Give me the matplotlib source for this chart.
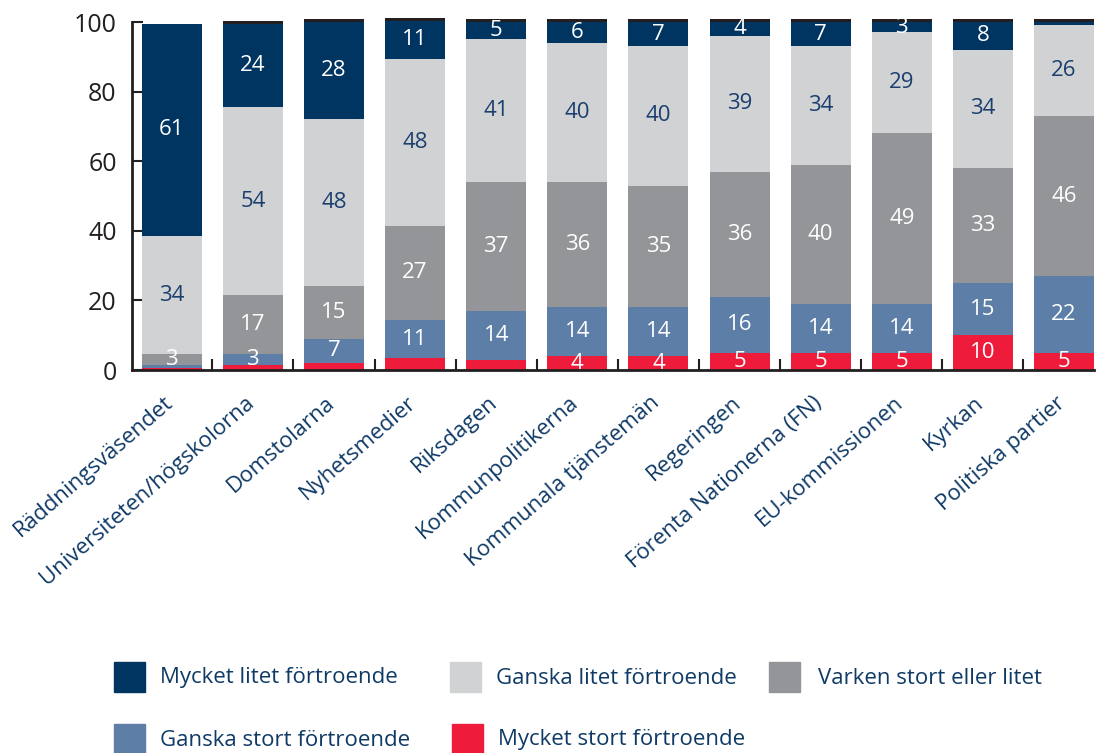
import matplotlib
matplotlib.use("Agg")
import matplotlib.pyplot as plt
from matplotlib.patches import Rectangle
import matplotlib.transforms as mtrans
import numpy as np

plt.rcParams['font.family'] = ['Open Sans', 'DejaVu Sans']

categories = ["Räddningsväsendet", "Universiteten/högskolorna", "Domstolarna",
              "Nyhetsmedier", "Riksdagen", "Kommunpolitikerna",
              "Kommunala tjänstemän", "Regeringen", "Förenta Nationerna (FN)",
              "EU-kommissionen", "Kyrkan", "Politiska partier"]

mycket_stort = [0.5, 1.5, 2, 3.4, 3, 4, 4, 5, 5, 5, 10, 5]
ganska_stort = [1, 3, 7, 11, 14, 14, 14, 16, 14, 14, 15, 22]
varken = [3, 17, 15, 27, 37, 36, 35, 36, 40, 49, 33, 46]
ganska_litet = [34, 54, 48, 48, 41, 40, 40, 39, 34, 29, 34, 26]
mycket_litet = [61, 24, 28, 11, 5, 6, 7, 4, 7, 3, 8, 1]
ovrigt = [0.0, 0.8, 0.8, 0.8, 0.8, 0.8, 0.8, 0.8, 0.8, 0.8, 0.8, 0.8]

series_names = ["Mycket stort förtroende", "Ganska stort förtroende",
                "Varken stort eller litet", "Ganska litet förtroende",
                "Mycket litet förtroende"]
series_vals = [mycket_stort, ganska_stort, varken, ganska_litet, mycket_litet]
colors = ["#EE1B3A", "#5D7FA7", "#939598", "#D1D2D4", "#003562"]
label_colors = ["white", "white", "white", "#1B3F6E", "white"]
min_label = [4, 3, 3, 3, 3]

navy_text = "#0F3A66"

fig = plt.figure(figsize=(11, 7.53), dpi=100)
ax = fig.add_axes([132/1100, 1-370/753, (1094-132)/1100, (370-22)/753])

x = np.arange(len(categories))
width = 0.74
bottom = np.zeros(len(categories))
for vals, col, lc, mn in zip(series_vals, colors, label_colors, min_label):
    v = np.array(vals, dtype=float)
    ax.bar(x, v, width, bottom=bottom, color=col, edgecolor='none', clip_on=False, zorder=2)
    for xi, vi, bi in zip(x, v, bottom):
        if vi >= mn:
            ax.text(xi, bi + vi/2, f"{int(round(vi))}", ha='center', va='center',
                    color=lc, fontsize=16, zorder=3)
    bottom = bottom + v

ov = np.array(ovrigt)
ax.bar(x, ov, width, bottom=bottom, color="#231F20", edgecolor='none', clip_on=False, zorder=2)

ax.set_xlim(-0.49, 11.37)
ax.set_ylim(0, 100)
ax.set_yticks([0, 20, 40, 60, 80, 100])
ax.tick_params(axis='y', direction='in', length=8, width=1.5, labelsize=18,
               labelcolor="#231F20", color="#231F20", pad=11)
for s in ['top', 'right']:
    ax.spines[s].set_visible(False)
for s in ['left', 'bottom']:
    ax.spines[s].set_linewidth(2)
    ax.spines[s].set_color("#231F20")

ax.set_xticks(x)
ax.set_xticklabels(categories, rotation=41, ha='right', va='top',
                   rotation_mode='anchor', fontsize=16, color=navy_text)
ax.tick_params(axis='x', which='major', length=0, pad=16)
ax.set_xticks(x[:-1] + 0.5, minor=True)
ax.tick_params(axis='x', which='minor', direction='in', length=8, width=1.5, color="#231F20")
offset = mtrans.ScaledTranslation(-6/72, 0, fig.dpi_scale_trans)
for lab in ax.get_xticklabels():
    lab.set_transform(lab.get_transform() + offset)

# legend
legend_order = [4, 3, 2, 1, 0]
pos = [(114, 662, 160, 678), (450, 662, 496, 678), (769, 662, 818, 678),
       (114, 724, 160, 740), (452, 724, 498, 740)]
for idx, (px, py, tx, ty) in zip(legend_order, pos):
    fig.add_artist(Rectangle((px/1100, 1-(py+30)/753), 31/1100, 30/753,
                             transform=fig.transFigure, color=colors[idx]))
    fig.text(tx/1100, 1-ty/753, series_names[idx], ha='left', va='center',
             fontsize=16, color=navy_text)

fig.savefig("out.png", dpi=100)
